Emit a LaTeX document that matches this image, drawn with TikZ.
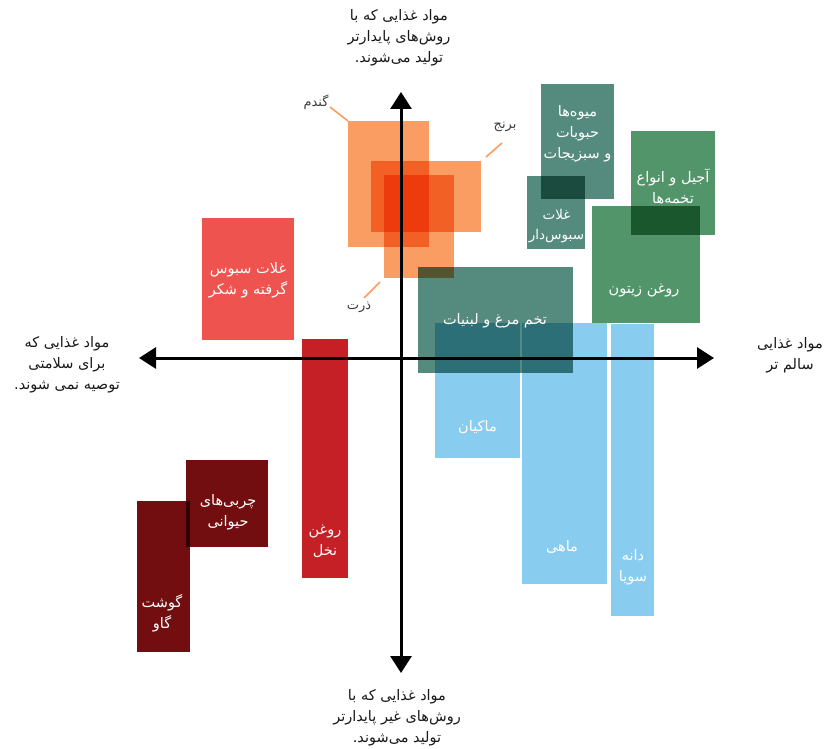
\documentclass[tikz,border=0pt]{standalone}
\usepackage{fontspec}
\usetikzlibrary{arrows.meta}
\TeXXeTstate=1
\newfontfamily\arabicfont[Script=Arabic]{DejaVu Sans}
\newcommand{\fa}[1]{\beginR #1\endR}
\definecolor{orng}{RGB}{249,157,98}
\definecolor{tealbox}{RGB}{84,139,126}
\definecolor{greenbox}{RGB}{82,149,106}
\definecolor{bluebox}{RGB}{136,205,240}
\definecolor{lightred}{RGB}{239,83,80}
\definecolor{redbox}{RGB}{196,32,38}
\definecolor{darkred}{RGB}{114,14,16}
\definecolor{axistext}{RGB}{25,25,25}
\definecolor{smalltext}{RGB}{60,60,60}
\begin{document}
\begin{tikzpicture}[x=1pt,y=-1pt,
  box/.style={draw=none,inner sep=0pt,outer sep=0pt},
  boxlabel/.style={text=white,align=center,inner sep=0pt,font=\arabicfont\fontsize{14.5}{21}\selectfont},
  axislabel/.style={text=axistext,align=center,inner sep=0pt,font=\arabicfont\fontsize{14.5}{21}\selectfont},
  smalllabel/.style={text=smalltext,inner sep=0pt,font=\arabicfont\fontsize{13}{14}\selectfont},
  leader/.style={draw=orng,line width=1.6pt},
  axis/.style={line width=3pt,{Triangle[width=21pt,length=17pt]}-{Triangle[width=21pt,length=17pt]}}]
\useasboundingbox (0,0) rectangle (824,749);

\begin{scope}[blend mode=multiply]
% orange
\node[box,fill=orng,minimum width=81,minimum height=126] (wheat) at (388.5,184) {};
\node[box,fill=orng,minimum width=110,minimum height=71] (rice) at (426,196.5) {};
\node[box,fill=orng,minimum width=70,minimum height=103] (corn) at (419,226.5) {};
% teal
\node[box,fill=tealbox,minimum width=73,minimum height=115] (fruits) at (577.5,141.5) {};
\node[box,fill=tealbox,minimum width=58,minimum height=73] (whole) at (556,212.5) {};
% green
\node[box,fill=greenbox,minimum width=84,minimum height=104] (nuts) at (673,183) {};
\node[box,fill=greenbox,minimum width=108,minimum height=117] (olive) at (646,264.5) {};
% light blue
\node[box,fill=bluebox,minimum width=85,minimum height=135] (poultry) at (477.5,390.5) {};
\node[box,fill=bluebox,minimum width=85,minimum height=261] (fish) at (564.5,453.5) {};
\node[box,fill=bluebox,minimum width=43,minimum height=292] (soy) at (632.5,470) {};
% eggs (teal)
\node[box,fill=tealbox,minimum width=155,minimum height=106] (eggs) at (495.5,320) {};
% reds
\node[box,fill=lightred,minimum width=92,minimum height=122] (refined) at (248,279) {};
\node[box,fill=redbox,minimum width=46,minimum height=239] (palm) at (325,458.5) {};
\node[box,fill=darkred,minimum width=82,minimum height=87] (fats) at (227,503.5) {};
\node[box,fill=darkred,minimum width=53,minimum height=151] (beef) at (163.5,576.5) {};
\end{scope}

% axes
\coordinate (top) at (401,92);
\coordinate (bottom) at (401,673);
\coordinate (left) at (139,358);
\coordinate (right) at (714,358);
\draw[axis] (bottom) -- (top);
\draw[axis] (left) -- (right);

% box labels
\node[boxlabel] (tRefined) at (248,280) {\fa{غلات سبوس}\\\fa{گرفته و شکر}};
\node[boxlabel] (tFruits) at (577.5,134) {\fa{میوه‌ها}\\\fa{حبوبات}\\\fa{و سبزیجات}};
\node[boxlabel,font=\arabicfont\fontsize{13.5}{20}\selectfont] (tWhole) at (556.5,226) {\fa{غلات}\\\fa{سبوس‌دار}};
\node[boxlabel] (tNuts) at (673,186) {\fa{آجیل و انواع}\\\fa{تخمه‌ها}};
\node[boxlabel] (tOlive) at (644,290) {\fa{روغن زیتون}};
\node[boxlabel] (tEggs) at (495,321) {\fa{تخم مرغ و لبنیات}};
\node[boxlabel] (tPoultry) at (477.5,427) {\fa{ماکیان}};
\node[boxlabel] (tFish) at (562,547) {\fa{ماهی}};
\node[boxlabel] (tSoy) at (633,567) {\fa{دانه}\\\fa{سویا}};
\node[boxlabel] (tPalm) at (325,541) {\fa{روغن}\\\fa{نخل}};
\node[boxlabel] (tFats) at (228,512) {\fa{چربی‌های}\\\fa{حیوانی}};
\node[boxlabel] (tBeef) at (162,613) {\fa{گوشت}\\\fa{گاو}};

% axis labels
\node[axislabel] (lTop) at (399,38) {\fa{مواد غذایی که با}\\\fa{روش‌های پایدارتر}\\\fa{تولید می‌شوند.}};
\node[axislabel] (lBottom) at (397,718) {\fa{مواد غذایی که با}\\\fa{روش‌های غیر پایدارتر}\\\fa{تولید می‌شوند.}};
\node[axislabel] (lLeft) at (67,365) {\fa{مواد غذایی که}\\\fa{برای سلامتی}\\\fa{توصیه نمی شوند.}};
\node[axislabel] (lRight) at (790,355) {\fa{مواد غذایی}\\\fa{سالم تر}};

% small labels with leaders
\node[smalllabel] (lWheat) at (316,102) {\fa{گندم}};
\node[smalllabel] (lRice) at (505,127) {\fa{برنج}};
\node[smalllabel] (lCorn) at (359,307) {\fa{ذرت}};
\coordinate (wheatLead) at (330,107);
\coordinate (riceLead) at (502,143);
\coordinate (cornLead) at (380,282);
\draw[leader] (wheatLead) -- (wheat.north west);
\draw[leader] (riceLead) -- ([shift={(5,-4)}]rice.north east);
\draw[leader] (cornLead) -- (364,298);
\end{tikzpicture}
\end{document}
